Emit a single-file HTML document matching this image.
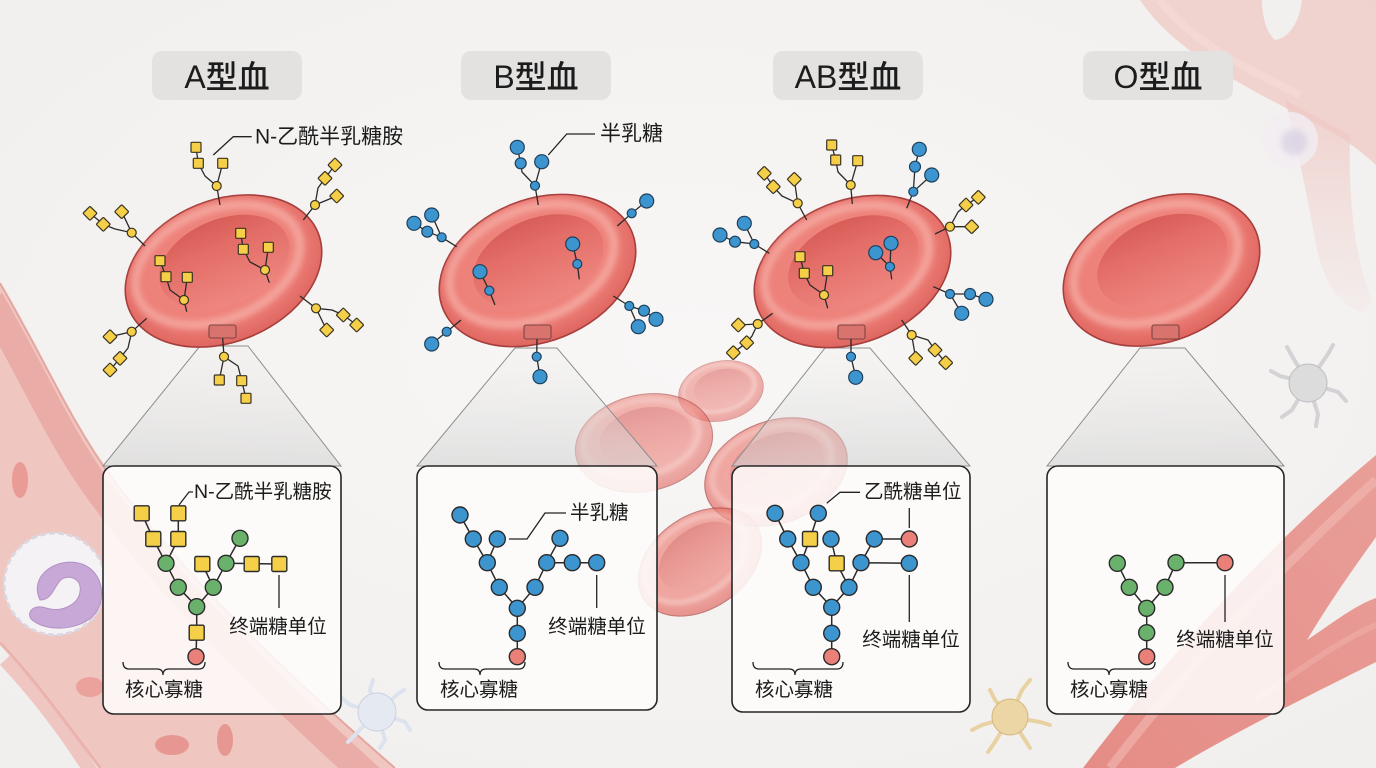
<!DOCTYPE html>
<html><head><meta charset="utf-8"><style>
html,body{margin:0;padding:0;background:#f4f3f1;}
svg{display:block;}
text{font-family:"Liberation Sans","Noto Sans CJK SC",sans-serif;fill:#1c1c1c;}
.t{font-size:32px;font-weight:500;}
.l{font-size:19.5px;}
.cl{font-size:21px;}
.bd{stroke:#2a2a2a;stroke-width:1.5;fill:none;}
.gl{stroke:#2a2a2a;stroke-width:1.3;fill:none;stroke-linejoin:round;}
.ld{stroke:#222;stroke-width:1.3;fill:none;}
</style></head><body>
<svg xmlns="http://www.w3.org/2000/svg" width="1376" height="768" viewBox="0 0 1376 768">
<defs>
 <radialGradient id="bg" cx="50%" cy="45%" r="70%"><stop offset="0" stop-color="#f8f7f6"/><stop offset="1" stop-color="#f1efed"/></radialGradient>
 <radialGradient id="rO" cx="50%" cy="45%" r="55%"><stop offset="0" stop-color="#ef8b84"/><stop offset="0.7" stop-color="#ed8179"/><stop offset="1" stop-color="#df655f"/></radialGradient>
 <linearGradient id="rI" x1="0" y1="0" x2="0" y2="1"><stop offset="0" stop-color="#d85d58"/><stop offset="0.35" stop-color="#e46e68"/><stop offset="1" stop-color="#ee8780"/></linearGradient>
 <linearGradient id="cone" x1="0" y1="0" x2="0" y2="1"><stop offset="0" stop-color="#e4e4e4" stop-opacity="0.1"/><stop offset="1" stop-color="#d4d4d4" stop-opacity="0.6"/></linearGradient>
 <linearGradient id="vesR" x1="0" y1="1" x2="1" y2="0"><stop offset="0" stop-color="#e58c86"/><stop offset="1" stop-color="#e99e98"/></linearGradient>
 <linearGradient id="trunk" x1="0" y1="0" x2="0" y2="1"><stop offset="0" stop-color="#efc8c4" stop-opacity="0.8"/><stop offset="1" stop-color="#f1d3d0" stop-opacity="0.15"/></linearGradient>
 <filter id="b3" x="-20%" y="-20%" width="140%" height="140%"><feGaussianBlur stdDeviation="3"/></filter>
 <filter id="b6" x="-30%" y="-30%" width="160%" height="160%"><feGaussianBlur stdDeviation="6"/></filter>
 <g id="rbc"><g transform="rotate(-22)">
   <ellipse rx="102" ry="71" fill="url(#rO)" stroke="#a63e3c" stroke-width="1.6"/>
   <ellipse cx="-3" cy="-8" rx="86" ry="55" fill="none" stroke="#f8b6ae" stroke-width="9" opacity="0.65" filter="url(#b3)"/>
   <ellipse cx="4" cy="-8" rx="68" ry="43" fill="url(#rI)"/>
 </g></g>
 <rect id="sq" x="-5" y="-5" width="10" height="10" rx="1" fill="#f5cf48" stroke="#3b3320" stroke-width="1.2"/>
 <circle id="yc" r="4.5" fill="#f5cf48" stroke="#3b3320" stroke-width="1.2"/>
 <circle id="bs" r="4.5" fill="#3d95d0" stroke="#1e3f5a" stroke-width="1.2"/>
 <circle id="bm" r="5.5" fill="#3d95d0" stroke="#1e3f5a" stroke-width="1.2"/>
 <circle id="bl" r="7" fill="#3d95d0" stroke="#1e3f5a" stroke-width="1.2"/>
 <rect id="SQ" x="-7.5" y="-7.5" width="15" height="15" rx="1.5" fill="#f5cf48" stroke="#2b2b2b" stroke-width="1.4"/>
 <circle id="G" r="8" fill="#6ab26c" stroke="#2b2b2b" stroke-width="1.4"/>
 <circle id="B" r="8" fill="#3d95d0" stroke="#2b2b2b" stroke-width="1.4"/>
 <circle id="R" r="8" fill="#ea8078" stroke="#2b2b2b" stroke-width="1.4"/>
</defs>

<rect width="1376" height="768" fill="url(#bg)"/>

<!-- left vessel -->
<path d="M0,283 C45,360 70,420 110,475 C180,570 270,660 395,768 L100,768 C65,722 35,680 0,643 Z" fill="#f0c6c0"/>
<path d="M-10,300 C35,378 60,438 100,492 C170,588 258,676 372,780" fill="none" stroke="#e9a7a1" stroke-width="28" opacity="0.85"/>
<path d="M0,283 C45,360 70,420 110,475 C180,570 270,660 395,768" fill="none" stroke="#de918a" stroke-width="2" opacity="0.7"/>
<path d="M0,643 C35,680 65,722 100,768" fill="none" stroke="#e6a49e" stroke-width="3" opacity="0.7"/>
<path d="M5,660 C38,695 68,735 95,778" fill="none" stroke="#eeb4ae" stroke-width="14" opacity="0.7"/>
<ellipse cx="20" cy="480" rx="8" ry="18" fill="#e8938d" opacity="0.85"/>
<ellipse cx="90" cy="687" rx="14" ry="10" fill="#e8938d" opacity="0.7"/>
<ellipse cx="172" cy="745" rx="17" ry="10" fill="#e58b85" opacity="0.8"/>
<ellipse cx="225" cy="740" rx="8" ry="16" fill="#e58b85" opacity="0.8"/>
<!-- WBC -->
<circle cx="55" cy="584" r="51" fill="#f4f2f5" stroke="#dcd6df" stroke-width="3" stroke-dasharray="6 3"/>
<path d="M40,600 C28,575 58,556 82,564 C104,572 108,602 92,617 C76,631 45,632 31,619 C26,611 35,604 46,608 C61,613 78,605 80,592 C82,580 71,574 62,579 C54,585 53,600 40,600 Z" fill="#c8a8d6" stroke="#b391c4" stroke-width="1"/>

<!-- top-right vessel -->
<path d="M1140,0 C1170,45 1230,80 1300,115 C1340,135 1360,150 1376,165 L1376,0 L1302,0 C1300,20 1290,38 1275,40 C1264,30 1262,10 1262,0 Z" fill="#efcac6" opacity="0.8"/>
<path d="M1160,0 C1190,40 1240,66 1300,95" fill="none" stroke="#f6dcd9" stroke-width="8" opacity="0.6"/>
<path d="M1285,100 C1298,150 1308,200 1316,245 C1324,285 1340,305 1362,312 L1372,300 C1356,262 1348,205 1350,135 Z" fill="url(#trunk)"/>
<circle cx="1290" cy="140" r="28" fill="#f1edf2" opacity="0.8"/>
<circle cx="1294" cy="142" r="13" fill="#d3c9e0" opacity="0.6" filter="url(#b3)"/>

<!-- bottom-right vessel -->
<path d="M1083,768 C1150,680 1250,560 1376,455 L1376,537 C1345,580 1325,610 1307,640 C1330,625 1355,605 1376,598 L1376,662 C1300,700 1230,735 1175,768 Z" fill="url(#vesR)"/>
<path d="M1110,768 C1170,690 1260,585 1376,480" fill="none" stroke="#f2b9b3" stroke-width="9" opacity="0.6"/>
<path d="M1255,700 C1300,670 1340,640 1376,625" fill="none" stroke="#f0b2ac" stroke-width="6" opacity="0.5"/>

<!-- spiky cells -->
<g stroke="#d3d2d4" stroke-width="4" stroke-linecap="round" fill="none">
 <path d="M1308,383 L1292,356 L1287,347 M1308,383 L1328,354 L1333,345 M1308,383 L1338,392 L1346,401 M1308,383 L1318,414 L1316,426 M1308,383 L1292,410 L1282,417 M1308,383 L1280,376 L1271,371"/>
</g>
<circle cx="1308" cy="383" r="19" fill="#dddcdd" stroke="#bdbcbe" stroke-width="1"/>
<g stroke="#dde3ee" stroke-width="4" stroke-linecap="round" fill="none">
 <path d="M377,712 L370,690 L373,680 M377,712 L398,694 L404,690 M377,712 L405,722 L410,730 M377,712 L385,740 L380,748 M377,712 L355,735 L348,742 M377,712 L350,705 L342,698"/>
</g>
<circle cx="377" cy="712" r="19" fill="#e5e9f1" stroke="#c9d0df" stroke-width="1"/>
<g stroke="#e8d2a2" stroke-width="4" stroke-linecap="round" fill="none">
 <path d="M1010,717 L1022,690 L1030,680 M1010,717 L1040,722 L1050,725 M1010,717 L1025,740 L1030,748 M1010,717 L995,742 L988,752 M1010,717 L982,725 L972,730 M1010,717 L995,700 L990,690"/>
</g>
<circle cx="1010" cy="717" r="18" fill="#ecd6a6" stroke="#d4b77c" stroke-width="1"/>

<!-- floating RBCs -->
<use href="#rbc" transform="translate(721,391) rotate(10) scale(0.42)" opacity="0.55"/>
<use href="#rbc" transform="translate(644,443) rotate(10) scale(0.68)" opacity="0.6"/>
<use href="#rbc" transform="translate(776,472) rotate(2) scale(0.72)" opacity="0.68"/>
<use href="#rbc" transform="translate(700,562) rotate(-12) scale(0.66)" opacity="0.68"/>

<!-- cones -->
<g stroke="#8e8e8e" stroke-width="1">
<polygon points="200,346 248,346 341,466 103,466" fill="url(#cone)"/>
<polygon points="515,348 557,348 657,466 417,466" fill="url(#cone)"/>
<polygon points="825,348 870,348 970,466 732,466" fill="url(#cone)"/>
<polygon points="1140,348 1185,348 1284,466 1047,466" fill="url(#cone)"/>
</g>

<!-- boxes -->
<g fill="#fdfcfb" fill-opacity="0.88" stroke="#262626" stroke-width="1.6">
<rect x="103" y="466" width="238" height="248" rx="11"/>
<rect x="417" y="466" width="240" height="244" rx="11"/>
<rect x="732" y="466" width="238" height="246" rx="11"/>
<rect x="1047" y="466" width="237" height="248" rx="11"/>
</g>

<!-- title pills -->
<g fill="#e3e2e1">
<rect x="152" y="51" width="150" height="49" rx="10"/>
<rect x="461" y="51" width="150" height="49" rx="10"/>
<rect x="773" y="51" width="150" height="49" rx="10"/>
<rect x="1083" y="51" width="150" height="49" rx="10"/>
</g>
<text class="t" x="227" y="77" text-anchor="middle" dominant-baseline="central">A型血</text>
<text class="t" x="536" y="77" text-anchor="middle" dominant-baseline="central">B型血</text>
<text class="t" x="848" y="77" text-anchor="middle" dominant-baseline="central">AB型血</text>
<text class="t" x="1158" y="77" text-anchor="middle" dominant-baseline="central">O型血</text>

<!-- main RBCs -->
<use href="#rbc" transform="translate(223.5,271)"/>
<use href="#rbc" transform="translate(537.5,270.5)"/>
<use href="#rbc" transform="translate(852.5,271.5)"/>
<use href="#rbc" transform="translate(1161.5,270)"/>
<g fill="#d9736e" stroke="#7d4442" stroke-width="1.1">
<rect x="209" y="325" width="27" height="13" rx="2"/>
<rect x="524" y="325" width="27" height="14" rx="2"/>
<rect x="838" y="325" width="27" height="14" rx="2"/>
<rect x="1152" y="325" width="27" height="14" rx="2"/>
</g>

<!-- A cell glycans -->
<path class="gl" d="M220,205 L216.7,186 M216.7,186 L205,176 L198.3,163.3 L196,147.3 M216.7,186 L222.7,163.3
M303.3,220 L315,205 M315,205 L318,188 L325,178.3 L335,165 M315,205 L336.7,196
M145,246 L131.7,232.7 M131.7,232.7 L115,229 L103.3,224.3 L90,213.3 M131.7,232.7 L121.7,211.7
M186.7,311.7 L184,300 M184,300 L170,290 L166,276.7 L160,260.7 M184,300 L187.3,277.3
M269.3,282.7 L265,270 M265,270 L250,262 L243.3,249.3 L240.7,233.3 M265,270 L268.3,247.3
M300,296 L316,308.3 M316,308.3 L332,310 L343.3,315 L356.7,325 M316,308.3 L326.7,330
M146.7,318.3 L131.7,331.7 M131.7,331.7 L110,336.7 M131.7,331.7 L128,348 L120,358.3 L110,370
M222.7,338.3 L224,356.7 M224,356.7 L219.3,380 M224,356.7 L238,366 L241.7,380.7 L246,398.3"/>
<use href="#yc" x="216.7" y="186"/><use href="#yc" x="315" y="205"/><use href="#yc" x="131.7" y="232.7"/><use href="#yc" x="184" y="300"/>
<use href="#yc" x="265" y="270"/><use href="#yc" x="316" y="308.3"/><use href="#yc" x="131.7" y="331.7"/><use href="#yc" x="224" y="356.7"/>
<use href="#sq" transform="translate(198.3,163.3)"/><use href="#sq" transform="translate(196,147.3)"/><use href="#sq" transform="translate(222.7,163.3)"/>
<use href="#sq" transform="translate(325,178.3) rotate(45)"/><use href="#sq" transform="translate(335,165) rotate(45)"/><use href="#sq" transform="translate(336.7,196) rotate(45)"/>
<use href="#sq" transform="translate(103.3,224.3) rotate(45)"/><use href="#sq" transform="translate(90,213.3) rotate(45)"/><use href="#sq" transform="translate(121.7,211.7) rotate(45)"/>
<use href="#sq" transform="translate(166,276.7)"/><use href="#sq" transform="translate(160,260.7)"/><use href="#sq" transform="translate(187.3,277.3)"/>
<use href="#sq" transform="translate(243.3,249.3)"/><use href="#sq" transform="translate(240.7,233.3)"/><use href="#sq" transform="translate(268.3,247.3)"/>
<use href="#sq" transform="translate(343.3,315) rotate(45)"/><use href="#sq" transform="translate(356.7,325) rotate(45)"/><use href="#sq" transform="translate(326.7,330) rotate(45)"/>
<use href="#sq" transform="translate(110,336.7) rotate(45)"/><use href="#sq" transform="translate(120,358.3) rotate(45)"/><use href="#sq" transform="translate(110,370) rotate(45)"/>
<use href="#sq" transform="translate(219.3,380)"/><use href="#sq" transform="translate(241.7,380.7)"/><use href="#sq" transform="translate(246,398.3)"/>
<polyline class="ld" points="213.3,155 233.3,136.7 251.7,136.7"/>
<text class="cl" x="255" y="137" dominant-baseline="central">N-乙酰半乳糖胺</text>

<!-- B cell glycans -->
<path class="gl" d="M538.3,205 L535,185.7 L522,172 L520.7,163.3 L517.3,147.3 M535,185.7 L541.7,161.7
M617.3,226 L631.7,213.3 L646.7,201
M456.7,246.7 L441.7,237.3 L427.3,231.7 L414,223.3 M441.7,237.3 L431.7,215
M495,305 L489.3,290.7 L480,271.7
M579.3,279.3 L577.3,264 L572.7,244
M613.3,296 L629.3,306 L644,310.7 L656,319.3 M629.3,306 L638.3,326.7
M461,320 L446.7,331.7 L431.7,344
M537,339 L536.7,356.7 L540,376.7"/>
<use href="#bs" x="535" y="185.7"/><use href="#bm" x="520.7" y="163.3"/><use href="#bl" x="517.3" y="147.3"/><use href="#bl" x="541.7" y="161.7"/>
<use href="#bs" x="631.7" y="213.3"/><use href="#bl" x="646.7" y="201"/>
<use href="#bs" x="441.7" y="237.3"/><use href="#bm" x="427.3" y="231.7"/><use href="#bl" x="414" y="223.3"/><use href="#bl" x="431.7" y="215"/>
<use href="#bs" x="489.3" y="290.7"/><use href="#bl" x="480" y="271.7"/>
<use href="#bs" x="577.3" y="264"/><use href="#bl" x="572.7" y="244"/>
<use href="#bs" x="629.3" y="306"/><use href="#bm" x="644" y="310.7"/><use href="#bl" x="656" y="319.3"/><use href="#bl" x="638.3" y="326.7"/>
<use href="#bs" x="446.7" y="331.7"/><use href="#bl" x="431.7" y="344"/>
<use href="#bs" x="536.7" y="356.7"/><use href="#bl" x="540" y="376.7"/>
<polyline class="ld" points="548.3,155 566.7,134 595,134"/>
<text class="cl" x="600" y="134" dominant-baseline="central">半乳糖</text>

<!-- AB cell glycans -->
<path class="gl" d="M852.3,204 L850.7,185 M850.7,185 L838,172 L835.7,160 L831.7,145 M850.7,185 L857.7,160.7
M806.7,220 L797.7,203.3 M797.7,203.3 L782,196 L773.3,186.7 L764.3,173.3 M797.7,203.3 L794.3,179.3
M906.7,208.3 L913.3,191.7 L915,166.7 L919.3,149.3 M913.3,191.7 L931.7,175
M935,234 L950,226.7 M950,226.7 L958,212 L966,205 L978.3,197.3 M950,226.7 L971.7,226.7
M769.3,253.3 L754.3,244 L735,241.7 L720,235 M754.3,244 L744.3,223.3
M827.7,308.3 L824,295 M824,295 L810,285 L804.3,273.3 L800,256.7 M824,295 L827.7,270.7
M891.7,279.3 L890,266.7 L875.7,252.7 M890,266.7 L891,243.3
M933.3,286.7 L950,294 L970,294 L986,299.3 M950,294 L961.7,313.3
M901.7,320 L911.7,335 M911.7,335 L915.7,358.3 M911.7,335 L928,340 L935,350 L945.7,362.7
M772.7,313.3 L757.7,324 M757.7,324 L738.3,325 M757.7,324 L752,336 L746.7,342.7 L733.3,352.7
M851,339 L851,356.7 L855.7,377.3"/>
<use href="#yc" x="850.7" y="185"/><use href="#yc" x="797.7" y="203.3"/><use href="#yc" x="950" y="226.7"/><use href="#yc" x="824" y="295"/><use href="#yc" x="911.7" y="335"/><use href="#yc" x="757.7" y="324"/>
<use href="#sq" transform="translate(835.7,160)"/><use href="#sq" transform="translate(831.7,145)"/><use href="#sq" transform="translate(857.7,160.7)"/>
<use href="#sq" transform="translate(773.3,186.7) rotate(45)"/><use href="#sq" transform="translate(764.3,173.3) rotate(45)"/><use href="#sq" transform="translate(794.3,179.3) rotate(45)"/>
<use href="#sq" transform="translate(966,205) rotate(45)"/><use href="#sq" transform="translate(978.3,197.3) rotate(45)"/><use href="#sq" transform="translate(971.7,226.7) rotate(45)"/>
<use href="#sq" transform="translate(804.3,273.3)"/><use href="#sq" transform="translate(800,256.7)"/><use href="#sq" transform="translate(827.7,270.7)"/>
<use href="#sq" transform="translate(915.7,358.3) rotate(45)"/><use href="#sq" transform="translate(935,350) rotate(45)"/><use href="#sq" transform="translate(945.7,362.7) rotate(45)"/>
<use href="#sq" transform="translate(738.3,325) rotate(45)"/><use href="#sq" transform="translate(746.7,342.7) rotate(45)"/><use href="#sq" transform="translate(733.3,352.7) rotate(45)"/>
<use href="#bs" x="913.3" y="191.7"/><use href="#bm" x="915" y="166.7"/><use href="#bl" x="919.3" y="149.3"/><use href="#bl" x="931.7" y="175"/>
<use href="#bs" x="754.3" y="244"/><use href="#bm" x="735" y="241.7"/><use href="#bl" x="720" y="235"/><use href="#bl" x="744.3" y="223.3"/>
<use href="#bs" x="890" y="266.7"/><use href="#bl" x="875.7" y="252.7"/><use href="#bl" x="891" y="243.3"/>
<use href="#bs" x="950" y="294"/><use href="#bm" x="970" y="294"/><use href="#bl" x="986" y="299.3"/><use href="#bl" x="961.7" y="313.3"/>
<use href="#bs" x="851" y="356.7"/><use href="#bl" x="855.7" y="377.3"/>

<!-- Box A glycan -->
<path class="bd" d="M141.7,513.3 L153.3,539 L166,563.3 L178.3,587.3 L196.7,606.7 L196.7,632.7 L196,656.7
M178.3,513.3 L178.3,539 L166,563.3 M213.3,587.3 L196.7,606.7 M202.3,564 L213.3,587.3 L226,563.3 L240,538.3 M226,563.3 L279.3,564"/>
<use href="#SQ" x="141.7" y="513.3"/><use href="#SQ" x="178.3" y="513.3"/><use href="#SQ" x="153.3" y="539"/><use href="#SQ" x="178.3" y="539"/>
<use href="#SQ" x="202.3" y="564"/><use href="#SQ" x="251.7" y="564"/><use href="#SQ" x="279.3" y="564"/><use href="#SQ" x="196.7" y="632.7"/>
<use href="#G" x="166" y="563.3"/><use href="#G" x="178.3" y="587.3"/><use href="#G" x="196.7" y="606.7"/><use href="#G" x="213.3" y="587.3"/><use href="#G" x="226" y="563.3"/><use href="#G" x="240" y="538.3"/>
<use href="#R" x="196" y="656.7"/>
<polyline class="ld" points="179,505 189,492 193,492"/>
<text class="l" x="194" y="492" dominant-baseline="central">N-乙酰半乳糖胺</text>
<line class="ld" x1="279" y1="575" x2="279" y2="608"/>
<text class="l" x="278" y="627" text-anchor="middle" dominant-baseline="central">终端糖单位</text>
<path class="ld" d="M123,662 Q123,669 129,669 L157,669 Q163,669 163,675 Q163,669 169,669 L199,669 Q205,669 205,662"/>
<text class="l" x="125" y="690" dominant-baseline="central">核心寡糖</text>

<!-- Box B glycan -->
<path class="bd" d="M460,515 L473.3,539 L487.3,562.7 L499.3,587.3 L517.3,608.3 L517.3,633.3 L517.3,656.7
M497.3,539 L487.3,562.7 M535,587.3 L517.3,608.3 M535,587.3 L546.7,562.7 L560,538.3 M546.7,562.7 L596.7,562.7"/>
<use href="#B" x="460" y="515"/><use href="#B" x="473.3" y="539"/><use href="#B" x="497.3" y="539"/><use href="#B" x="487.3" y="562.7"/>
<use href="#B" x="499.3" y="587.3"/><use href="#B" x="517.3" y="608.3"/><use href="#B" x="517.3" y="633.3"/><use href="#B" x="535" y="587.3"/>
<use href="#B" x="546.7" y="562.7"/><use href="#B" x="560" y="538.3"/><use href="#B" x="572.3" y="562.7"/><use href="#B" x="596.7" y="562.7"/>
<use href="#R" x="517.3" y="656.7"/>
<polyline class="ld" points="509,539 527,539 545,513 566,513"/>
<text class="l" x="570" y="513" dominant-baseline="central">半乳糖</text>
<line class="ld" x1="596.7" y1="575" x2="596.7" y2="608"/>
<text class="l" x="597" y="627" text-anchor="middle" dominant-baseline="central">终端糖单位</text>
<path class="ld" d="M439,662 Q439,669 445,669 L474,669 Q480,669 480,675 Q480,669 486,669 L519,669 Q525,669 525,662"/>
<text class="l" x="440" y="690" dominant-baseline="central">核心寡糖</text>

<!-- Box AB glycan -->
<path class="bd" d="M775,513.3 L787.7,539 L801,562.7 L813.3,587.3 L831.7,607.3 L831.7,633.3 L831.7,656.7
M818.3,513.3 L810,539 L801,562.7 M831,539 L836.7,563.3 L849,587.3 L831.7,607.3 M861,562.7 L849,587.3
M861,562.7 L874.3,539 L909.3,539 M861,562.7 L909.3,563.3"/>
<use href="#B" x="775" y="513.3"/><use href="#B" x="818.3" y="513.3"/><use href="#B" x="787.7" y="539"/><use href="#B" x="831" y="539"/>
<use href="#B" x="801" y="562.7"/><use href="#B" x="813.3" y="587.3"/><use href="#B" x="849" y="587.3"/><use href="#B" x="831.7" y="607.3"/>
<use href="#B" x="831.7" y="633.3"/><use href="#B" x="861" y="562.7"/><use href="#B" x="874.3" y="539"/><use href="#B" x="909.3" y="563.3"/>
<use href="#SQ" x="810" y="539"/><use href="#SQ" x="836.7" y="563.3"/>
<use href="#R" x="909.3" y="539"/><use href="#R" x="831.7" y="656.7"/>
<polyline class="ld" points="826.7,503.3 840,492.3 860,492.3"/>
<text class="l" x="864" y="492" dominant-baseline="central">乙酰糖单位</text>
<line class="ld" x1="909.3" y1="508" x2="909.3" y2="528"/>
<line class="ld" x1="909.3" y1="575" x2="909.3" y2="622"/>
<text class="l" x="911" y="640" text-anchor="middle" dominant-baseline="central">终端糖单位</text>
<path class="ld" d="M753,662 Q753,669 759,669 L789,669 Q795,669 795,675 Q795,669 801,669 L837,669 Q843,669 843,662"/>
<text class="l" x="755" y="690" dominant-baseline="central">核心寡糖</text>

<!-- Box O glycan -->
<path class="bd" d="M1117.3,563.3 L1129.3,587.3 L1146.7,608.3 L1146.7,632.7 L1146.7,656.7 M1176,562.7 L1165,587.3 L1146.7,608.3 M1176,562.7 L1225,562.7"/>
<use href="#G" x="1117.3" y="563.3"/><use href="#G" x="1129.3" y="587.3"/><use href="#G" x="1146.7" y="608.3"/><use href="#G" x="1146.7" y="632.7"/>
<use href="#G" x="1165" y="587.3"/><use href="#G" x="1176" y="562.7"/>
<use href="#R" x="1225" y="562.7"/><use href="#R" x="1146.7" y="656.7"/>
<line class="ld" x1="1225" y1="575" x2="1225" y2="622"/>
<text class="l" x="1225" y="640" text-anchor="middle" dominant-baseline="central">终端糖单位</text>
<path class="ld" d="M1068,662 Q1068,669 1074,669 L1103,669 Q1109,669 1109,675 Q1109,669 1115,669 L1149,669 Q1155,669 1155,662"/>
<text class="l" x="1070" y="690" dominant-baseline="central">核心寡糖</text>
</svg>
</body></html>
